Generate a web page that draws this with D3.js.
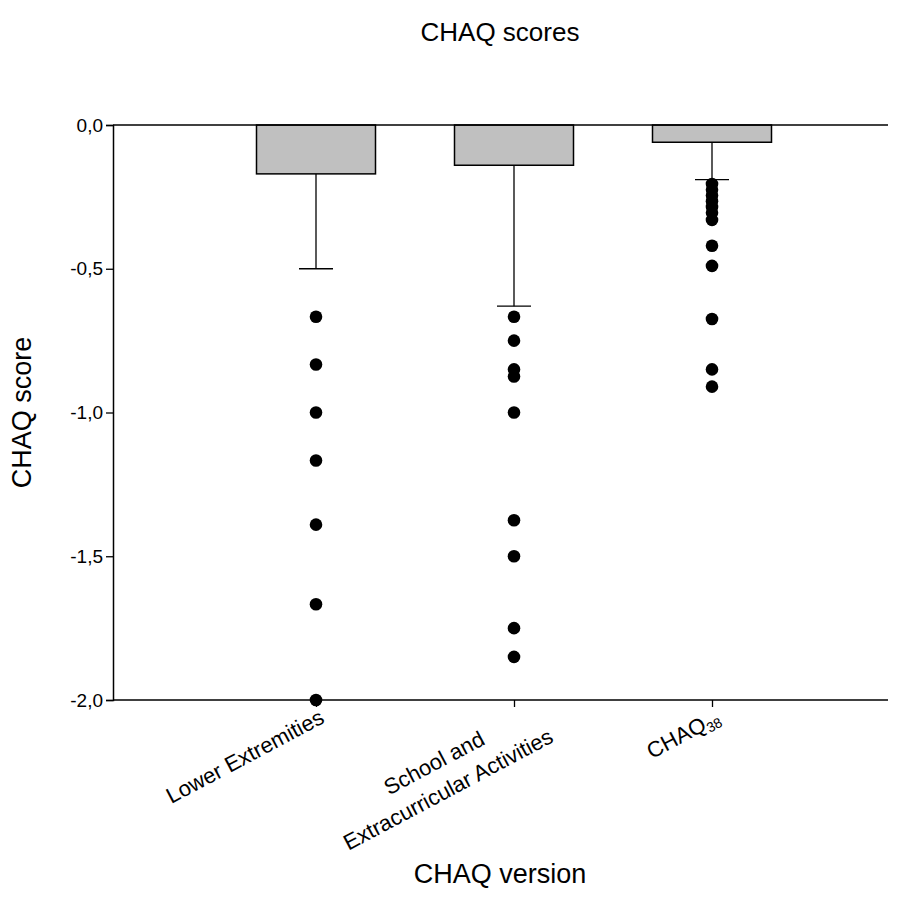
<!DOCTYPE html>
<html>
<head>
<meta charset="utf-8">
<script src="https://cdn.jsdelivr.net/npm/d3@7/dist/d3.min.js"></script>
<style>
  html, body { margin: 0; padding: 0; background: #fff; }
  svg { display: block; font-family: "Liberation Sans", Arial, sans-serif; }
</style>
</head>
<body>
<svg id="chart" width="900" height="911"></svg>
<script>
// CHAQ domain scores: group means, SD whiskers and individual outliers
const categories = ["Lower Extremities", "School and Extracurricular Activities", "CHAQ38"];
const categoryLines = [["Lower Extremities"], ["School and", "Extracurricular Activities"], ["CHAQ"]];
const categorySub = [null, null, "38"];
const means = [-0.17, -0.14, -0.06];
const sdLower = [-0.50, -0.63, -0.19];
const outliersLower = [-0.667, -0.833, -1.0, -1.167, -1.39, -1.667, -2.0];
const outliersSchool = [-0.667, -0.75, -0.85, -0.875, -1.0, -1.375, -1.5, -1.75, -1.85];
const outliersChaq38 = [-0.205, -0.225, -0.245, -0.265, -0.285, -0.305, -0.33, -0.42, -0.49, -0.675, -0.85, -0.91];
const yTicks = [0, -0.5, -1.0, -1.5, -2.0];

const svg = d3.select("#chart");
const plot = { left: 113, right: 888, top: 125, bottom: 700 };
const FONT = "Liberation Sans, Arial, sans-serif";

const x = d3.scalePoint().domain(categories).range([316, 712]);
const y = d3.scaleLinear().domain([0, -2]).range([plot.top, plot.bottom]);
const barW = 119;
const capW = 34;

// Title
svg.append("text")
  .attr("x", 500).attr("y", 41)
  .attr("text-anchor", "middle")
  .attr("font-size", 26)
  .text("CHAQ scores");

// Bars hanging from zero
svg.append("g").selectAll("rect")
  .data(categories)
  .join("rect")
  .attr("x", d => x(d) - barW / 2)
  .attr("y", y(0))
  .attr("width", barW)
  .attr("height", (d, i) => y(means[i]) - y(0))
  .attr("fill", "#c0c0c0")
  .attr("stroke", "#000")
  .attr("stroke-width", 1.5);

// Whiskers (one-sided, downward)
const whisk = svg.append("g").attr("stroke", "#000").attr("stroke-width", 1.3);
categories.forEach((c, i) => {
  whisk.append("line")
    .attr("x1", x(c)).attr("x2", x(c))
    .attr("y1", y(means[i])).attr("y2", y(sdLower[i]));
  whisk.append("line")
    .attr("x1", x(c) - capW / 2).attr("x2", x(c) + capW / 2)
    .attr("y1", y(sdLower[i])).attr("y2", y(sdLower[i]));
});

// Zero line across the plot
svg.append("line")
  .attr("x1", plot.left).attr("x2", plot.right)
  .attr("y1", y(0)).attr("y2", y(0))
  .attr("stroke", "#000").attr("stroke-width", 1.5);

// Left axis
const yAxis = d3.axisLeft(y).tickValues(yTicks).tickSize(7).tickPadding(3)
  .tickFormat(d => d3.format(".1f")(d).replace(".", ",").replace("−", "-"));
const gy = svg.append("g").attr("transform", `translate(${plot.left},0)`).call(yAxis);
gy.select(".domain").attr("stroke-width", 1.5);
gy.selectAll(".tick line").attr("stroke-width", 1.3);
gy.selectAll(".tick text").attr("font-size", 19).attr("font-family", FONT).attr("fill", "#000");

// Bottom axis
const xAxis = d3.axisBottom(x).tickSize(7).tickFormat("");
const gx = svg.append("g").attr("transform", `translate(0,${plot.bottom})`).call(xAxis);
gx.select(".domain").attr("d", `M${plot.left},0H${plot.right}`).attr("stroke-width", 1.5);
gx.selectAll(".tick line").attr("stroke-width", 1.3);

// Rotated category labels, each block ending just right of its tick
const angle = 28;
const rad = angle * Math.PI / 180;
const labelSize = 22;
const lineH = 30;
categories.forEach((c, i) => {
  const lines = categoryLines[i];
  const n = lines.length;
  const g = svg.append("g");
  lines.forEach((ln, k) => {
    const t = g.append("text")
      .attr("font-size", labelSize)
      .attr("text-anchor", "middle")
      .attr("x", 0)
      .attr("y", (k - (n - 1) / 2) * lineH + labelSize * 0.36);
    t.append("tspan").text(ln);
    if (categorySub[i]) {
      t.append("tspan").attr("font-size", 14).attr("dy", 4).text(categorySub[i]);
    }
  });
  const w = g.node().getBBox().width;
  const half = w / 2;
  const cx = x(c) - half * Math.cos(rad) + 6 + (n - 1) * lineH * 0.8;
  const cy = plot.bottom + half * Math.sin(rad) + 15 + (n - 1) * lineH * 0.2;
  g.attr("transform", `translate(${cx},${cy}) rotate(${-angle})`);
});

// Individual points
const dots = svg.append("g").attr("fill", "#000");
[outliersLower, outliersSchool, outliersChaq38].forEach((arr, i) => {
  dots.selectAll(null).data(arr).join("circle")
    .attr("cx", x(categories[i]))
    .attr("cy", d => y(d))
    .attr("r", 6.3);
});

// Axis titles
svg.append("text")
  .attr("transform", `translate(31,${(plot.top + plot.bottom) / 2}) rotate(-90)`)
  .attr("text-anchor", "middle")
  .attr("font-size", 27)
  .text("CHAQ score");

svg.append("text")
  .attr("x", 500).attr("y", 883)
  .attr("text-anchor", "middle")
  .attr("font-size", 27)
  .text("CHAQ version");
</script>
</body>
</html>
